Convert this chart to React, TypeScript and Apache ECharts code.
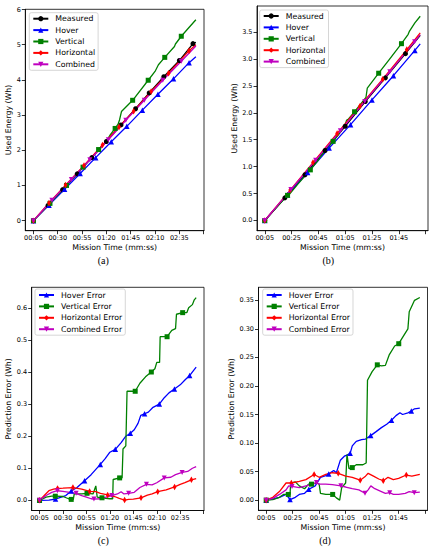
import React, { useEffect, useRef } from "react";
import * as echarts from "echarts";

type P = [number, number];

// ---------- Panel (a): used energy, flight 1 (time s, Wh) ----------
const aMeasured: P[] = [[5,0],[20,0.43],[35,0.88],[50,1.33],[65,1.79],[80,2.25],[95,2.72],[110,3.18],[124,3.63],[139,4.09],[155,4.55],[169,5.03],[172,5.07]];
const aMeasuredMarks = [5,20,35,50,65,80,95,110,124,139,155,169];
const aHover: P[] = [[5,0],[21,0.44],[37,0.89],[53,1.34],[69,1.79],[85,2.24],[101,2.68],[117,3.14],[133,3.59],[149,4.03],[165,4.49],[172,4.66]];
const aHoverMarks = [5,21,37,53,69,85,101,117,133,149,165];
const aVertical: P[] = [[5,0],[22,0.49],[39,1.0],[56,1.52],[72,2.02],[80,2.26],[83.5,2.42],[89,2.62],[92,2.74],[93.5,2.86],[95.5,3.1],[107,3.42],[123,3.99],[130,4.24],[133.5,4.43],[140,4.64],[150,4.95],[151,5.02],[157,5.24],[164,5.46],[172,5.71]];
const aVerticalMarks = [5,22,39,56,72,89,107,123,140,157];
const aHorizontal: P[] = [[5,0],[21,0.5],[38,1.01],[57,1.57],[76,2.15],[93,2.66],[108,3.11],[126,3.67],[144,4.19],[165,4.83],[172,5.0]];
const aHorizontalMarks = [5,21,38,57,76,93,108,126,144,165];
const aCombined: P[] = [[5,0],[24,0.58],[44,1.17],[63,1.73],[82,2.3],[100,2.85],[119,3.42],[138,3.99],[157,4.53],[172,4.965]];
const aCombinedMarks = [5,24,44,63,82,100,119,138,157];

// ---------- Panel (b): used energy, flight 2 ----------
const bMeasured: P[] = [[5,0],[20,0.42],[35,0.85],[50,1.3],[65,1.75],[80,2.21],[95,2.65],[110,3.1],[121,3.44]];
const bMeasuredMarks = [5,20,35,50,65,80,95,110];
const bHover: P[] = [[5,0],[22,0.48],[37,0.89],[53,1.345],[69,1.78],[85,2.24],[101,2.69],[117,3.16],[121,3.28]];
const bHoverMarks = [5,22,37,53,69,85,101,117];
const bVertical: P[] = [[5,0],[15,0.275],[22,0.467],[23.5,0.49],[30,0.685],[39,0.94],[45,1.12],[46,1.17],[56,1.47],[60.5,1.615],[62,1.68],[65,1.78],[66,1.86],[67.5,1.885],[72,2.02],[80.5,2.285],[81.5,2.46],[90,2.736],[98,2.995],[107,3.285],[112,3.46],[113,3.52],[117,3.67],[121,3.795]];
const bVerticalMarks = [5,22,39,56,72,90,107];
const bHorizontal: P[] = [[5,0],[24,0.565],[41,1.075],[59,1.617],[76,2.123],[93,2.625],[111,3.175],[121,3.485]];
const bHorizontalMarks = [5,24,41,59,76,93,111];
const bCombined: P[] = [[5,0],[24.5,0.574],[43,1.12],[61.4,1.665],[79.6,2.212],[98.3,2.763],[116.8,3.323],[121,3.454]];
const bCombinedMarks = [5,24.5,43,61.4,79.6,98.3,116.8];

// ---------- Panel (c): prediction error, flight 1 ----------
const cHover: P[] = [[5,0],[15,0.001],[22,0.004],[28,0.01],[33,0.015],[38.8,0.029],[45,0.04],[53,0.061],[60,0.08],[69.8,0.112],[75,0.13],[80,0.15],[85.8,0.159],[92,0.18],[97,0.2],[101.8,0.209],[106,0.22],[110,0.24],[113,0.265],[117,0.27],[121,0.275],[126,0.29],[132.7,0.3],[138,0.32],[143,0.335],[148.8,0.347],[155,0.36],[160,0.375],[165,0.389],[172,0.415]];
const cHoverMarks = [5,22,38.8,53,69.8,85.8,101.8,117,132.7,148.8,165];
const cVertical: P[] = [[5,0],[12,0.01],[18,0.013],[21.8,0.013],[30,0.012],[36,0.005],[38.8,0.003],[41,0.003],[42,0.02],[50,0.02],[55.6,0.022],[62,0.02],[65,0.045],[66.5,0.01],[71.6,0.008],[80,0.005],[83,0.005],[83.5,0.065],[90.4,0.07],[93,0.07],[94,0.16],[97,0.17],[98.3,0.34],[107,0.34],[112,0.365],[118,0.385],[124.2,0.4],[128,0.41],[130,0.43],[133,0.43],[133.6,0.51],[141,0.51],[146,0.53],[150,0.535],[151,0.58],[157.6,0.585],[162,0.585],[164,0.6],[168,0.61],[170,0.625],[172,0.632]];
const cVerticalMarks = [5,21.8,38.8,55.6,71.6,90.4,107,124.2,141,157.6];
const cHorizontal: P[] = [[5,0],[10,0.015],[15,0.03],[20,0.035],[24.2,0.037],[30,0.038],[40.6,0.04],[50,0.035],[58.4,0.028],[65,0.027],[70,0.022],[77.6,0.017],[85,0.012],[90,0.006],[95.7,0.001],[100,0.003],[105,0.004],[113.2,0.008],[120,0.016],[125,0.02],[131,0.027],[140,0.033],[149,0.042],[155,0.05],[160,0.055],[166.9,0.064],[172,0.068]];
const cHorizontalMarks = [5,24.2,40.6,58.4,77.6,95.7,113.2,131,149,166.9];
const cCombined: P[] = [[5,0],[12,0.015],[18,0.025],[24,0.03],[30,0.028],[37,0.025],[44,0.022],[50,0.015],[55,0.01],[60,0.005],[63,0.004],[70,0.005],[76,0.01],[82,0.015],[88,0.02],[92,0.027],[95,0.02],[100,0.022],[106,0.025],[112,0.04],[119,0.05],[125,0.048],[130,0.055],[138,0.07],[145,0.072],[150,0.08],[157,0.087],[163,0.09],[168,0.1],[172,0.105]];
const cCombinedMarks = [5,24,44,63,82,100,119,138,157];

// ---------- Panel (d): prediction error, flight 2 ----------
const dHover: P[] = [[5,0],[10,0.002],[15,0.005],[20,0.01],[23,0.001],[27,0.005],[30,0.01],[34,0.012],[37.2,0.019],[42,0.025],[46,0.04],[50,0.043],[52.2,0.046],[56,0.052],[58,0.048],[61,0.07],[64,0.077],[66,0.079],[68.4,0.082],[70,0.095],[73,0.103],[77,0.106],[80,0.107],[83.9,0.113],[88,0.12],[92,0.127],[96,0.133],[99.6,0.14],[103,0.148],[106,0.153],[108,0.15],[112,0.153],[114.6,0.156],[117,0.16],[121,0.161]];
const dHoverMarks = [5,23,37.2,52.2,68.4,83.9,99.6,114.6];
const dVertical: P[] = [[5,0],[10,0.001],[15,0.005],[18,0.01],[21.7,0.01],[23,0.01],[23.5,0.03],[27,0.032],[30,0.025],[34,0.02],[37,0.028],[39.2,0.028],[43,0.03],[45,0.028],[46,0.012],[50,0.01],[55.2,0.01],[58,0.004],[60.5,0.0],[62,0.022],[65,0.03],[66,0.08],[67.5,0.055],[70,0.057],[73,0.062],[78,0.062],[80.5,0.065],[81.5,0.21],[85,0.225],[88.9,0.237],[92,0.235],[95,0.236],[98,0.255],[102,0.27],[105.1,0.274],[108,0.285],[112,0.3],[113,0.33],[117,0.35],[121,0.355]];
const dVerticalMarks = [5,21.7,39.2,55.2,70,88.9,105.1];
const dHorizontal: P[] = [[5,0],[10,0.005],[15,0.015],[20,0.03],[24,0.03],[30,0.033],[35,0.036],[41.2,0.045],[45,0.04],[50,0.045],[55,0.048],[59.4,0.047],[65,0.042],[70,0.04],[76,0.035],[80,0.042],[82,0.047],[86,0.042],[90,0.037],[93.4,0.034],[97,0.04],[101,0.036],[105,0.038],[110.8,0.044],[115,0.042],[121,0.045]];
const dHorizontalMarks = [5,24,41.2,59.4,76,93.4,110.8];
const dCombined: P[] = [[5,0],[10,0.003],[15,0.01],[20,0.018],[22,0.025],[24.5,0.024],[30,0.022],[35,0.025],[40,0.028],[43,0.031],[45,0.028],[50,0.028],[55,0.027],[61.4,0.025],[65,0.023],[70,0.02],[75,0.018],[79.6,0.012],[82,0.018],[84,0.025],[87,0.02],[92,0.015],[95,0.012],[98.3,0.013],[101,0.01],[105,0.01],[110,0.012],[113,0.015],[116.8,0.013],[121,0.014]];
const dCombinedMarks = [5,24.5,43,61.4,79.6,98.3,116.8];

// ---------- Ticks ----------
const xTicksLong = [5, 30, 55, 80, 105, 130, 155];
const xTickLongExtra = [180];
const xTicksShort = [5, 25, 45, 65, 85, 105];
const xTickShortExtra = [125];
const yTicksA = [0, 1, 2, 3, 4, 5, 6];
const yTicksB = [0, 0.5, 1, 1.5, 2, 2.5, 3, 3.5];
const yTicksC = [0, 0.1, 0.2, 0.3, 0.4, 0.5, 0.6];
const yTicksD = [0, 0.05, 0.1, 0.15, 0.2, 0.25, 0.3, 0.35];

const energyNames = ["Measured", "Hover", "Vertical", "Horizontal", "Combined"];
const errorNames = ["Hover Error", "Vertical Error", "Horizontal Error", "Combined Error"];
const panelLabels = ["(a)", "(b)", "(c)", "(d)"];

const FONT = "DejaVu Sans";
const COL = { k: "#000000", b: "#0000ff", g: "#008000", r: "#ff0000", m: "#bf00bf" };
const SYM = {
  circle: "circle",
  tri: "triangle",
  sq: "rect",
  dia: "diamond",
  down: "path://M0,0L10,0L5,10Z",
};

const pad2 = (n: number) => String(n).padStart(2, "0");
const fmtTime = (v: number) => `${pad2(Math.floor(v / 60))}:${pad2(Math.round(v % 60))}`;

function mkSeries(name: string, pts: P[], marks: number[], color: string, symbol: string, size: number | number[], gi: number) {
  return {
    type: "line",
    name,
    xAxisIndex: gi,
    yAxisIndex: gi,
    data: pts.map((p) => (marks.includes(p[0]) ? p : { value: p, symbol: "none" })),
    symbol,
    symbolSize: size,
    showSymbol: true,
    showAllSymbol: true,
    lineStyle: { color, width: 1.3 },
    itemStyle: { color, borderWidth: 0 },
    emphasis: { disabled: true },
    silent: true,
  };
}

function mkX(gi: number, min: number, max: number, labels: number[], extra: number[]) {
  return {
    type: "value",
    gridIndex: gi,
    min,
    max,
    name: "Mission Time (mm:ss)",
    nameLocation: "middle",
    nameGap: 13,
    nameTextStyle: { fontSize: 7.8, color: "#000", fontFamily: FONT },
    axisLine: { show: true, onZero: false, lineStyle: { color: "#000", width: 0.8 } },
    axisTick: { show: true, length: 3.5, lineStyle: { color: "#000", width: 0.8 }, customValues: [...labels, ...extra] },
    axisLabel: { customValues: labels, formatter: fmtTime, fontSize: 6.5, margin: 4, color: "#000", fontFamily: FONT },
    splitLine: { show: false },
  };
}

function mkY(gi: number, min: number, max: number, ticks: number[], digits: number, name: string, gap: number) {
  return {
    type: "value",
    gridIndex: gi,
    min,
    max,
    name,
    nameLocation: "middle",
    nameGap: gap,
    nameTextStyle: { fontSize: 7.8, color: "#000", fontFamily: FONT },
    axisLine: { show: true, onZero: false, lineStyle: { color: "#000", width: 0.8 } },
    axisTick: { show: true, length: 3.5, lineStyle: { color: "#000", width: 0.8 }, customValues: ticks },
    axisLabel: { customValues: ticks, formatter: (v: number) => v.toFixed(digits), fontSize: 6.5, margin: 4.5, color: "#000", fontFamily: FONT },
    splitLine: { show: false },
  };
}

function mkLegend(names: string[], left: number, top: number) {
  return {
    data: names,
    orient: "vertical",
    left,
    top,
    itemWidth: 15,
    itemHeight: 6.5,
    itemGap: 3.4,
    padding: [2, 3, 2, 3],
    borderColor: "#cccccc",
    borderWidth: 0.8,
    borderRadius: 2,
    backgroundColor: "rgba(255,255,255,0.8)",
    selectedMode: false,
    textStyle: { fontSize: 7.8, color: "#000", fontFamily: FONT, padding: [0, 0, 0, 2] },
  };
}

export default function App() {
  const ref = useRef<HTMLDivElement>(null);
  useEffect(() => {
    if (!ref.current) return;
    const chart = echarts.init(ref.current, undefined, { renderer: "svg" });
    const gridStyle = { show: true, borderColor: "#000", borderWidth: 0.8, backgroundColor: "transparent" };
    const labelStyle = { font: "10px 'Liberation Serif'", fill: "#000", textAlign: "center", textVerticalAlign: "middle" };
    const option = {
      animation: false,
      grid: [
        { left: 25.3, top: 9.3, width: 178.7, height: 221.4, ...gridStyle },
        { left: 257, top: 6, width: 171, height: 224.7, ...gridStyle },
        { left: 31.7, top: 287.3, width: 172.3, height: 223.2, ...gridStyle },
        { left: 258.5, top: 287.3, width: 169, height: 223, ...gridStyle },
      ],
      xAxis: [
        mkX(0, -3.35, 180.35, xTicksLong, xTickLongExtra),
        mkX(1, -0.8, 126.8, xTicksShort, xTickShortExtra),
        mkX(2, -3.35, 180.35, xTicksLong, xTickLongExtra),
        mkX(3, -0.8, 126.8, xTicksShort, xTickShortExtra),
      ],
      yAxis: [
        mkY(0, -0.286, 6.006, yTicksA, 0, "Used Energy (Wh)", 11.4),
        mkY(1, -0.19, 3.985, yTicksB, 1, "Used Energy (Wh)", 17.8),
        mkY(2, -0.0316, 0.664, yTicksC, 1, "Prediction Error (Wh)", 17.8),
        mkY(3, -0.0178, 0.3728, yTicksD, 2, "Prediction Error (Wh)", 22.6),
      ],
      legend: [
        mkLegend(energyNames, 29.3, 12.7),
        mkLegend(energyNames, 259.7, 10),
        mkLegend(errorNames, 35, 289),
        mkLegend(errorNames, 262.7, 289),
      ],
      series: [
        mkSeries("Measured", aMeasured, aMeasuredMarks, COL.k, SYM.circle, 5, 0),
        mkSeries("Hover", aHover, aHoverMarks, COL.b, SYM.tri, 5.5, 0),
        mkSeries("Vertical", aVertical, aVerticalMarks, COL.g, SYM.sq, 5, 0),
        mkSeries("Horizontal", aHorizontal, aHorizontalMarks, COL.r, SYM.dia, [3.8, 6.5], 0),
        mkSeries("Combined", aCombined, aCombinedMarks, COL.m, SYM.down, 5, 0),
        mkSeries("Measured", bMeasured, bMeasuredMarks, COL.k, SYM.circle, 5, 1),
        mkSeries("Hover", bHover, bHoverMarks, COL.b, SYM.tri, 5.5, 1),
        mkSeries("Vertical", bVertical, bVerticalMarks, COL.g, SYM.sq, 5, 1),
        mkSeries("Horizontal", bHorizontal, bHorizontalMarks, COL.r, SYM.dia, [3.8, 6.5], 1),
        mkSeries("Combined", bCombined, bCombinedMarks, COL.m, SYM.down, 5, 1),
        mkSeries("Hover Error", cHover, cHoverMarks, COL.b, SYM.tri, 5.5, 2),
        mkSeries("Vertical Error", cVertical, cVerticalMarks, COL.g, SYM.sq, 5, 2),
        mkSeries("Horizontal Error", cHorizontal, cHorizontalMarks, COL.r, SYM.dia, [3.8, 6.5], 2),
        mkSeries("Combined Error", cCombined, cCombinedMarks, COL.m, SYM.down, 5, 2),
        mkSeries("Hover Error", dHover, dHoverMarks, COL.b, SYM.tri, 5.5, 3),
        mkSeries("Vertical Error", dVertical, dVerticalMarks, COL.g, SYM.sq, 5, 3),
        mkSeries("Horizontal Error", dHorizontal, dHorizontalMarks, COL.r, SYM.dia, [3.8, 6.5], 3),
        mkSeries("Combined Error", dCombined, dCombinedMarks, COL.m, SYM.down, 5, 3),
      ],
      graphic: [
        { type: "text", x: 103.3, y: 260, style: { text: panelLabels[0], ...labelStyle } },
        { type: "text", x: 328.3, y: 260, style: { text: panelLabels[1], ...labelStyle } },
        { type: "text", x: 103.3, y: 540, style: { text: panelLabels[2], ...labelStyle } },
        { type: "text", x: 325, y: 540, style: { text: panelLabels[3], ...labelStyle } },
      ],
    };
    chart.setOption(option as any);
    return () => chart.dispose();
  }, []);
  return <div ref={ref} style={{ position: "fixed", left: 0, top: 0, width: 435, height: 550, background: "#fff" }} />;
}
